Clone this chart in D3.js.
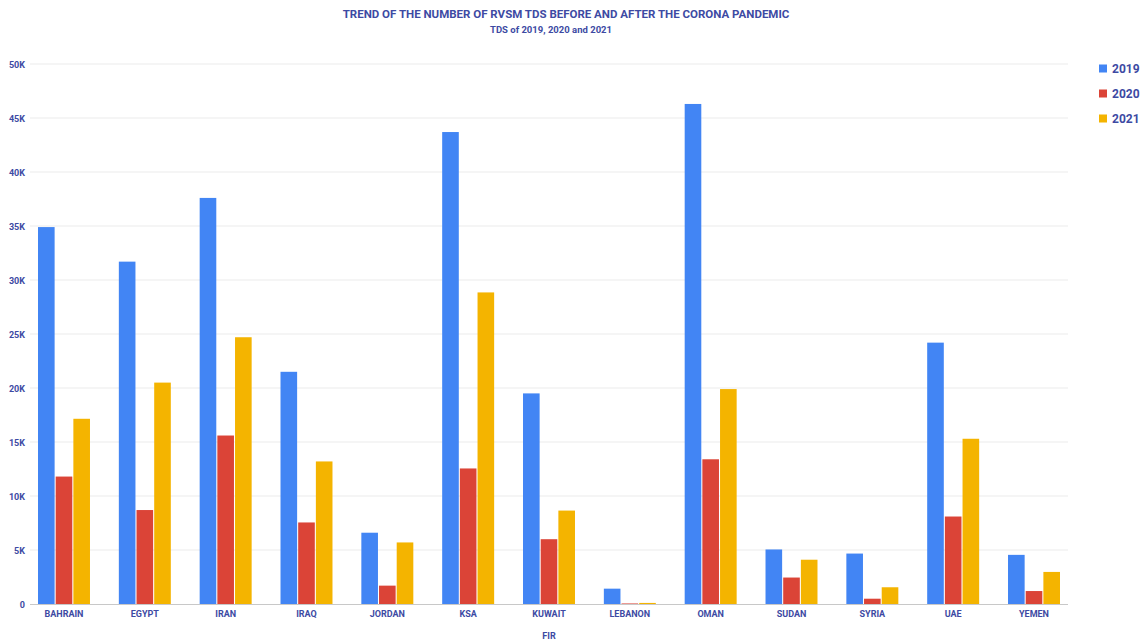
<!DOCTYPE html>
<html><head><meta charset="utf-8">
<script src="https://cdn.jsdelivr.net/npm/d3@7"></script>
<style>
body{margin:0;background:#fff;}
svg text{font-family:Roboto,"Noto Sans",sans-serif;font-weight:700;fill:#3d4aa3;}
</style></head>
<body><svg id="c" width="1142" height="640"></svg>
<script>
const categories = ["BAHRAIN","EGYPT","IRAN","IRAQ","JORDAN","KSA","KUWAIT","LEBANON","OMAN","SUDAN","SYRIA","UAE","YEMEN"];
const seriesNames = ["2019","2020","2021"];
const v2019 = [34900,31700,37600,21500,6600,43700,19500,1420,46300,5050,4670,24200,4550];
const v2020 = [11800,8700,15600,7550,1700,12550,6000,50,13400,2450,490,8100,1200];
const v2021 = [17150,20500,24700,13200,5700,28850,8650,100,19900,4100,1550,15300,2970];
const yTicks = [0,5000,10000,15000,20000,25000,30000,35000,40000,45000,50000];
const colors = ["#4285F4","#DB4437","#F4B400"];
const titleText = "TREND OF THE NUMBER OF RVSM TDS BEFORE AND AFTER THE CORONA PANDEMIC";
const subtitleText = "TDS of 2019, 2020 and 2021";
const xTitle = "FIR";

const series = [v2019, v2020, v2021];
const svg = d3.select("#c");
const L = 30, R = 1068, T = 64, B = 604;

const x0 = d3.scaleBand().domain(categories).range([L, R]).paddingInner(0.357).paddingOuter(0.099);
const x1 = d3.scaleBand().domain(seriesNames).range([0, x0.bandwidth()]).paddingInner(0.06);
const y = d3.scaleLinear().domain([0, 50000]).range([B, T]);

// gridlines
svg.append("g").selectAll("line").data(yTicks.slice(1)).join("line")
  .attr("x1", L).attr("x2", R)
  .attr("y1", d => y(d)).attr("y2", d => y(d))
  .attr("stroke", "#ebebeb").attr("stroke-width", 1);

// y labels
const fmt = d => d === 0 ? "0" : (d/1000) + "K";
svg.append("g").selectAll("text").data(yTicks).join("text")
  .attr("x", 25).attr("y", d => y(d) + 3.5)
  .attr("text-anchor", "end").attr("font-size", 9).text(fmt);

// bars
const g = svg.append("g");
categories.forEach((c, i) => {
  seriesNames.forEach((s, j) => {
    const val = series[j][i];
    g.append("rect")
      .attr("x", x0(c) + x1(s))
      .attr("y", y(val))
      .attr("width", x1.bandwidth())
      .attr("height", Math.max(0, B - y(val)))
      .attr("fill", colors[j]);
  });
});

// baseline
svg.append("line").attr("x1", L).attr("x2", R).attr("y1", B + 0.5).attr("y2", B + 0.5)
  .attr("stroke", "#c8c8c8").attr("stroke-width", 1);

// x labels
svg.append("g").selectAll("text").data(categories).join("text")
  .attr("x", d => x0(d) + x0.bandwidth()/2).attr("y", 617)
  .attr("text-anchor", "middle").attr("font-size", 9).text(d => d);

svg.append("text").attr("x", (L+R)/2).attr("y", 639).attr("text-anchor", "middle")
  .attr("font-size", 9).text(xTitle);

// title
svg.append("text").attr("x", 566).attr("y", 18).attr("text-anchor", "middle")
  .attr("font-size", 11.5).text(titleText);
svg.append("text").attr("x", 551).attr("y", 33).attr("text-anchor", "middle")
  .attr("font-size", 9.5).text(subtitleText);

// legend
const lg = svg.append("g");
seriesNames.forEach((s, j) => {
  const yy = 69 + j * 25;
  lg.append("rect").attr("x", 1099).attr("y", yy - 4.5).attr("width", 8).attr("height", 8).attr("fill", colors[j]);
  lg.append("text").attr("x", 1112).attr("y", yy + 4).attr("font-size", 12).text(s);
});
</script></body></html>
